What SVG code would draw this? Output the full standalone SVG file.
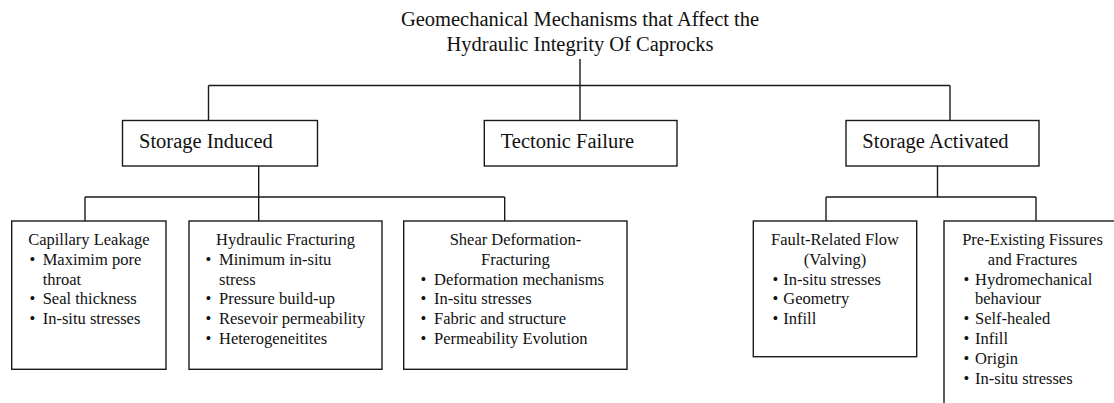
<svg xmlns="http://www.w3.org/2000/svg" width="1114" height="403" viewBox="0 0 1114 403">
<style>
.box{fill:#fff;stroke:#1a1a1a;stroke-width:1.4}
.ln{fill:none;stroke:#1a1a1a;stroke-width:1.4}
text{font-family:"Liberation Serif","Times New Roman",serif;fill:#111}
.big{font-size:20.5px}
.sm{font-size:16.5px}
.c{text-anchor:middle}
.b{text-anchor:middle}
</style>
<rect width="1114" height="403" fill="#fff"/>
<g id="title">
<text class="big c" x="580" y="25.5">Geomechanical Mechanisms that Affect the</text>
<text class="big c" x="580" y="51">Hydraulic Integrity Of Caprocks</text>
</g>
<g id="connectors">
<path class="ln" d="M580 59V120.5M208.5 85.5H950M208.5 85.5V120.5M950 85.5V120.5"/>
<path class="ln" d="M258.7 166V221M85 197H504.7M504.7 197V221M85 197V232.5"/>
<path class="ln" d="M937.5 166V197M826 197H1036M826 197V221M1036 197V221"/>
</g>
<g id="storage-induced">
<rect class="box" x="122.5" y="120.5" width="195" height="45.5"/>
<text class="big" x="139" y="148">Storage Induced</text>
</g>
<g id="tectonic-failure">
<rect class="box" x="484.3" y="120.5" width="192.7" height="45.5"/>
<text class="big" x="500.7" y="148">Tectonic Failure</text>
</g>
<g id="storage-activated">
<rect class="box" x="846" y="120.5" width="193" height="45.5"/>
<text class="big" x="862.3" y="148">Storage Activated</text>
</g>
<g id="capillary-leakage">
<rect class="box" x="11.7" y="221" width="154.3" height="148.3"/>
<text class="sm c" x="88.9" y="245">Capillary Leakage</text>
<text class="sm b" x="32.5" y="264.8">•</text>
<text class="sm" x="42.7" y="264.8">Maximim pore</text>
<text class="sm" x="42.7" y="284.6">throat</text>
<text class="sm b" x="32.5" y="304.4">•</text>
<text class="sm" x="42.7" y="304.4">Seal thickness</text>
<text class="sm b" x="32.5" y="324.2">•</text>
<text class="sm" x="42.7" y="324.2">In-situ stresses</text>
</g>
<g id="hydraulic-fracturing">
<rect class="box" x="189" y="221" width="193" height="148.3"/>
<text class="sm c" x="285.5" y="245">Hydraulic Fracturing</text>
<text class="sm b" x="208.5" y="264.8">•</text>
<text class="sm" x="219" y="264.8">Minimum in-situ</text>
<text class="sm" x="219" y="284.6">stress</text>
<text class="sm b" x="208.5" y="304.4">•</text>
<text class="sm" x="219" y="304.4">Pressure build-up</text>
<text class="sm b" x="208.5" y="324.2">•</text>
<text class="sm" x="219" y="324.2">Resevoir permeability</text>
<text class="sm b" x="208.5" y="344">•</text>
<text class="sm" x="219" y="344">Heterogeneitites</text>
</g>
<g id="shear-deformation">
<rect class="box" x="403.7" y="221" width="223.3" height="148.3"/>
<text class="sm c" x="515.4" y="245">Shear Deformation-</text>
<text class="sm c" x="515.4" y="264.8">Fracturing</text>
<text class="sm b" x="423.5" y="284.6">•</text>
<text class="sm" x="434" y="284.6">Deformation mechanisms</text>
<text class="sm b" x="423.5" y="304.4">•</text>
<text class="sm" x="434" y="304.4">In-situ stresses</text>
<text class="sm b" x="423.5" y="324.2">•</text>
<text class="sm" x="434" y="324.2">Fabric and structure</text>
<text class="sm b" x="423.5" y="344">•</text>
<text class="sm" x="434" y="344">Permeability Evolution</text>
</g>
<g id="fault-related-flow">
<rect class="box" x="753.3" y="221" width="163.4" height="135.7"/>
<text class="sm c" x="835" y="245">Fault-Related Flow</text>
<text class="sm c" x="835" y="264.8">(Valving)</text>
<text class="sm b" x="775.5" y="284.6">•</text>
<text class="sm" x="783.3" y="284.6">In-situ stresses</text>
<text class="sm b" x="775.5" y="304.4">•</text>
<text class="sm" x="783.3" y="304.4">Geometry</text>
<text class="sm b" x="775.5" y="324.2">•</text>
<text class="sm" x="783.3" y="324.2">Infill</text>
</g>
<g id="pre-existing-fissures">
<rect class="box" x="944" y="221" width="177" height="200"/>
<text class="sm c" x="1032.5" y="245">Pre-Existing Fissures</text>
<text class="sm c" x="1032.5" y="264.8">and Fractures</text>
<text class="sm b" x="966.5" y="284.6">•</text>
<text class="sm" x="975" y="284.6">Hydromechanical</text>
<text class="sm" x="975" y="304.4">behaviour</text>
<text class="sm b" x="966.5" y="324.2">•</text>
<text class="sm" x="975" y="324.2">Self-healed</text>
<text class="sm b" x="966.5" y="344">•</text>
<text class="sm" x="975" y="344">Infill</text>
<text class="sm b" x="966.5" y="363.8">•</text>
<text class="sm" x="975" y="363.8">Origin</text>
<text class="sm b" x="966.5" y="383.6">•</text>
<text class="sm" x="975" y="383.6">In-situ stresses</text>
</g>
</svg>
